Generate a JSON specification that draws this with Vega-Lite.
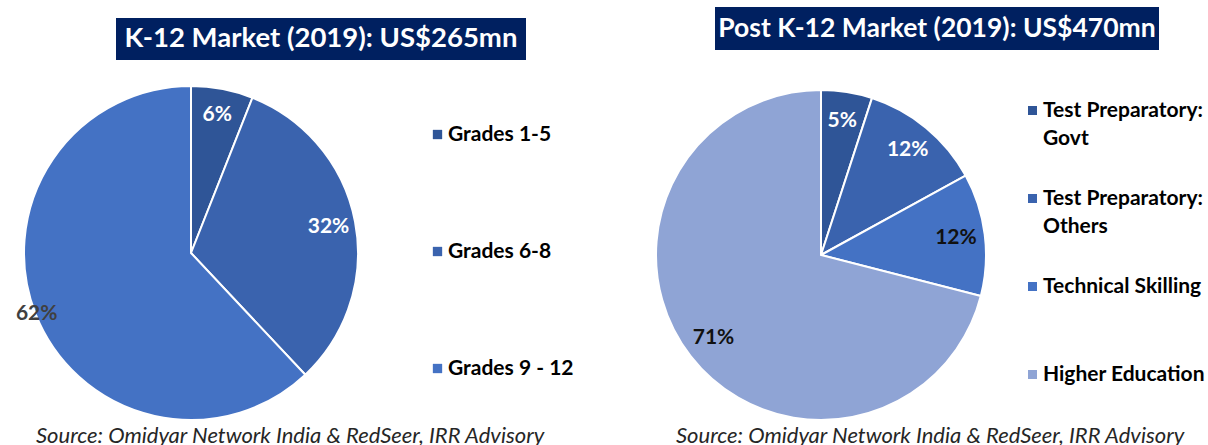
{
  "$schema": "https://vega.github.io/schema/vega-lite/v6.json",
  "padding": 0,
  "spacing": 0,
  "config": {
    "view": {"stroke": null},
    "font": "Lato",
    "style": {"guide-label": {"lineHeight": 28}}
  },
  "vconcat": [
    {
      "spacing": 0,
      "bounds": "flush",
      "hconcat": [
        {"width": 116, "height": 78, "data": {"values": []}, "mark": "point"},
        {
          "width": 410, "height": 78,
          "data": {"values": [{}]},
          "layer": [
            {"mark": {"type": "point", "shape": "M-1,-0.10244H1V0.10244H-1Z", "size": 168100, "filled": true, "color": "#002060", "opacity": 1, "strokeWidth": 0}},
            {"mark": {"type": "text", "text": "K-12 Market (2019): US$265mn", "font": "Lato", "fontSize": 27.5, "fontWeight": "bold", "color": "white"}}
          ]
        },
        {"width": 189, "height": 57, "data": {"values": []}, "mark": "point"},
        {
          "width": 444, "height": 57,
          "data": {"values": [{}]},
          "layer": [
            {"mark": {"type": "point", "shape": "M-1,-0.09685H1V0.09685H-1Z", "size": 197136, "filled": true, "color": "#002060", "opacity": 1, "strokeWidth": 0}},
            {"mark": {"type": "text", "text": "Post K-12 Market (2019): US$470mn", "font": "Lato", "fontSize": 26.5, "fontWeight": "bold", "color": "white"}}
          ]
        }
      ]
    },
    {
      "spacing": 0,
      "bounds": "flush",
      "resolve": {"scale": {"color": "independent", "theta": "independent"}, "legend": {"color": "independent"}},
      "hconcat": [
        {
          "width": 382, "height": 350,
          "data": {"values": [
            {"cat": "Grades 1-5", "share": 0.06, "i": 1},
            {"cat": "Grades 6-8", "share": 0.32, "i": 2},
            {"cat": "Grades 9 - 12", "share": 0.62, "i": 3}
          ]},
          "title": {"text": "Source: Omidyar Network India & RedSeer, IRR Advisory", "orient": "bottom", "anchor": "start", "dx": 36, "offset": 15, "baseline": "alphabetic", "font": "Lato", "fontSize": 22, "fontStyle": "italic", "fontWeight": "normal", "color": "#262626"},
          "encoding": {
            "theta": {"field": "share", "type": "quantitative", "stack": true},
            "order": {"field": "i", "type": "quantitative"}
          },
          "layer": [
            {
              "mark": {"type": "arc", "outerRadius": 167, "stroke": "white", "strokeWidth": 2},
              "encoding": {
                "color": {
                  "field": "cat", "type": "nominal",
                  "scale": {"domain": ["Grades 1-5", "Grades 6-8", "Grades 9 - 12"], "range": ["#2F5597", "#3A63AE", "#4472C4"]},
                  "legend": {"orient": "none", "legendX": 427, "legendY": 46, "title": null, "symbolType": "square", "symbolSize": 87, "symbolStrokeWidth": 0, "labelFont": "Lato", "labelFontSize": 21, "labelFontWeight": "bold", "labelColor": "#000000", "labelOffset": 0, "rowPadding": 95, "padding": 0, "labelLimit": 300}
                }
              }
            },
            {
              "mark": {"type": "text", "font": "Lato", "fontSize": 21, "fontWeight": "bold", "radius": {"expr": "datum.cat == 'Grades 9 - 12' ? 166 : 140"}},
              "encoding": {
                "detail": {"field": "cat", "type": "nominal"},
                "text": {"field": "share", "type": "quantitative", "format": ".0%"},
                "color": {"condition": {"test": "datum.cat == 'Grades 9 - 12'", "value": "#404040"}, "value": "white"}
              }
            }
          ]
        },
        {"width": 144, "height": 2, "data": {"values": []}, "mark": "point"},
        {
          "width": 590, "height": 354,
          "data": {"values": [
            {"cat": "Test Preparatory: Govt", "share": 0.05, "i": 1},
            {"cat": "Test Preparatory: Others", "share": 0.12, "i": 2},
            {"cat": "Technical Skilling", "share": 0.12, "i": 3},
            {"cat": "Higher Education", "share": 0.71, "i": 4}
          ]},
          "title": {"text": "Source: Omidyar Network India & RedSeer, IRR Advisory", "orient": "bottom", "anchor": "start", "dx": 150, "offset": 11, "baseline": "alphabetic", "font": "Lato", "fontSize": 22, "fontStyle": "italic", "fontWeight": "normal", "color": "#262626"},
          "encoding": {
            "theta": {"field": "share", "type": "quantitative", "stack": true},
            "order": {"field": "i", "type": "quantitative"}
          },
          "layer": [
            {
              "mark": {"type": "arc", "outerRadius": 165, "stroke": "white", "strokeWidth": 2},
              "encoding": {
                "color": {
                  "field": "cat", "type": "nominal",
                  "scale": {"domain": ["Test Preparatory: Govt", "Test Preparatory: Others", "Technical Skilling", "Higher Education"], "range": ["#2F5597", "#3A63AE", "#4472C4", "#8FA4D5"]},
                  "legend": {"orient": "none", "legendX": 496, "legendY": 22, "title": null, "symbolType": "square", "symbolSize": 81, "symbolStrokeWidth": 0, "labelFont": "Lato", "labelFontSize": 21, "labelFontWeight": "bold", "labelColor": "#000000", "labelOffset": 0, "rowPadding": 38, "gridAlign": "all", "padding": 0, "labelLimit": 300,
                    "labelExpr": "indexof(datum.label, 'Test Preparatory: ') == 0 ? ['Test Preparatory:', slice(datum.label, 18)] : datum.label"}
                }
              }
            },
            {
              "mark": {"type": "text", "font": "Lato", "fontSize": 21, "fontWeight": "bold", "radius": 136},
              "encoding": {
                "detail": {"field": "cat", "type": "nominal"},
                "text": {"field": "share", "type": "quantitative", "format": ".0%"},
                "color": {"condition": {"test": "datum.i >= 3", "value": "#111111"}, "value": "white"}
              }
            }
          ]
        }
      ]
    }
  ]
}
